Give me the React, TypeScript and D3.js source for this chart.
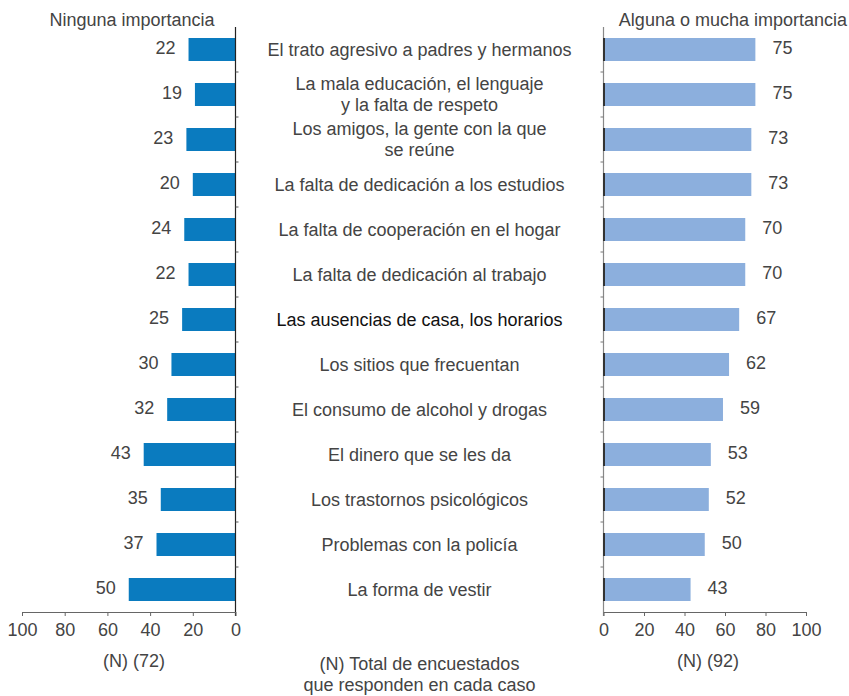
import React, { useEffect, useRef } from "react";
import * as d3 from "d3";

const categories: string[][] = [
  ["El trato agresivo a padres y hermanos"],
  ["La mala educación, el lenguaje", "y la falta de respeto"],
  ["Los amigos, la gente con la que", "se reúne"],
  ["La falta de dedicación a los estudios"],
  ["La falta de cooperación en el hogar"],
  ["La falta de dedicación al trabajo"],
  ["Las ausencias de casa, los horarios"],
  ["Los sitios que frecuentan"],
  ["El consumo de alcohol y drogas"],
  ["El dinero que se les da"],
  ["Los trastornos psicológicos"],
  ["Problemas con la policía"],
  ["La forma de vestir"],
];
const ningunaValues = [22, 19, 23, 20, 24, 22, 25, 30, 32, 43, 35, 37, 50];
const algunaValues = [75, 75, 73, 73, 70, 70, 67, 62, 59, 53, 52, 50, 43];
const tickValues = [0, 20, 40, 60, 80, 100];
const leftTitle = "Ninguna importancia";
const rightTitle = "Alguna o mucha importancia";
const leftN = "(N) (72)";
const rightN = "(N) (92)";
const footer = ["(N) Total de encuestados", "que responden en cada caso"];

const W = 849;
const H = 696;
const FONT = "'Liberation Sans', Arial, sans-serif";
const TXT = "#444";
const FS = 18;

export default function App() {
  const ref = useRef<SVGSVGElement>(null);
  useEffect(() => {
    const svg = d3.select(ref.current);
    svg.selectAll("*").remove();
    const idx = categories.map((_, i) => i);
    const y = d3.scaleBand<number>().domain(idx).range([27, 612]).padding(0);
    const barH = 23;
    const xL = d3.scaleLinear().domain([0, 100]).range([235.5, 22]);
    const xR = d3.scaleLinear().domain([0, 100]).range([603.5, 806]);
    const bandTop = (i: number) => (y(i) as number) + (y.bandwidth() - barH) / 2;
    const mid = (i: number) => (y(i) as number) + y.bandwidth() / 2;

    const g = svg.append("g").attr("font-family", FONT);

    // left bars
    g.selectAll(".lb").data(ningunaValues).join("rect")
      .attr("x", (d) => xL(d)).attr("y", (_, i) => bandTop(i))
      .attr("width", (d) => xL(0) - xL(d)).attr("height", barH)
      .attr("fill", "#0a7bbf");
    g.selectAll(".lt").data(ningunaValues).join("text")
      .attr("x", (d) => xL(d) - 13).attr("y", (_, i) => mid(i) - 2)
      .attr("text-anchor", "end").attr("dominant-baseline", "central")
      .attr("font-size", FS).attr("fill", TXT).text((d) => d);

    // right bars
    g.selectAll(".rb").data(algunaValues).join("rect")
      .attr("x", xR(0)).attr("y", (_, i) => bandTop(i))
      .attr("width", (d) => xR(d) - xR(0)).attr("height", barH)
      .attr("fill", "#8cafdd");
    g.selectAll(".rt").data(algunaValues).join("text")
      .attr("x", (d) => xR(d) + 17).attr("y", (_, i) => mid(i) - 2)
      .attr("text-anchor", "start").attr("dominant-baseline", "central")
      .attr("font-size", FS).attr("fill", TXT).text((d) => d);

    // category labels
    const cx = (xL(0) + xR(0)) / 2;
    categories.forEach((lines, i) => {
      const lh = 20.5;
      const t = g.append("text").attr("x", cx).attr("text-anchor", "middle")
        .attr("font-size", FS).attr("fill", i === 6 ? "#111" : TXT);
      lines.forEach((ln, j) => {
        t.append("tspan").attr("x", cx)
          .attr("y", mid(i) + (j - (lines.length - 1) / 2) * lh)
          .attr("dominant-baseline", "central").text(ln);
      });
    });

    // left vertical axis
    g.append("line").attr("x1", xL(0)).attr("x2", xL(0)).attr("y1", 27).attr("y2", 616)
      .attr("stroke", "#222").attr("stroke-width", 1.2);
    idx.slice(1).forEach((i) => {
      g.append("line").attr("x1", xL(0)).attr("x2", xL(0) + 3)
        .attr("y1", y(i) as number).attr("y2", y(i) as number).attr("stroke", "#555");
    });
    // right vertical axis
    g.append("line").attr("x1", xR(0)).attr("x2", xR(0)).attr("y1", 27).attr("y2", 616)
      .attr("stroke", "#888").attr("stroke-width", 1.2);
    idx.forEach((i) => {
      g.append("line").attr("x1", xR(0) + 0.5).attr("x2", xR(0) + 0.5)
        .attr("y1", bandTop(i)).attr("y2", bandTop(i) + barH)
        .attr("stroke", "#333").attr("stroke-width", 2);
    });
    idx.slice(1).forEach((i) => {
      g.append("line").attr("x1", xR(0) - 3).attr("x2", xR(0))
        .attr("y1", y(i) as number).attr("y2", y(i) as number).attr("stroke", "#777");
    });

    // bottom axes
    const axL = d3.axisBottom(xL).tickValues(tickValues).tickSize(4).tickSizeOuter(0).tickPadding(7);
    const axR = d3.axisBottom(xR).tickValues(tickValues).tickSize(4).tickSizeOuter(0).tickPadding(7);
    [axL, axR].forEach((ax) => {
      const a = g.append("g").attr("transform", "translate(0,612)").call(ax as any);
      a.select(".domain").attr("stroke", "#666").attr("stroke-width", 1.2);
      a.selectAll(".tick line").attr("stroke", "#666");
      a.selectAll(".tick text").attr("font-size", FS).attr("font-family", FONT).attr("fill", TXT);
    });

    // titles
    g.append("text").attr("x", 132).attr("y", 20).attr("text-anchor", "middle")
      .attr("dominant-baseline", "central").attr("font-size", FS).attr("fill", TXT).text(leftTitle);
    g.append("text").attr("x", 847).attr("y", 20).attr("text-anchor", "end")
      .attr("dominant-baseline", "central").attr("font-size", FS).attr("fill", TXT).text(rightTitle);

    g.append("text").attr("x", 134).attr("y", 661).attr("text-anchor", "middle")
      .attr("dominant-baseline", "central").attr("font-size", FS).attr("fill", TXT).text(leftN);
    g.append("text").attr("x", 708).attr("y", 661).attr("text-anchor", "middle")
      .attr("dominant-baseline", "central").attr("font-size", FS).attr("fill", TXT).text(rightN);
    footer.forEach((f, j) => {
      g.append("text").attr("x", cx).attr("y", 664 + j * 21).attr("text-anchor", "middle")
        .attr("dominant-baseline", "central").attr("font-size", FS).attr("fill", TXT).text(f);
    });
  }, []);
  return (
    <svg ref={ref} width={W} height={H}
      style={{ position: "absolute", left: 0, top: 0, background: "#fff" }} />
  );
}
